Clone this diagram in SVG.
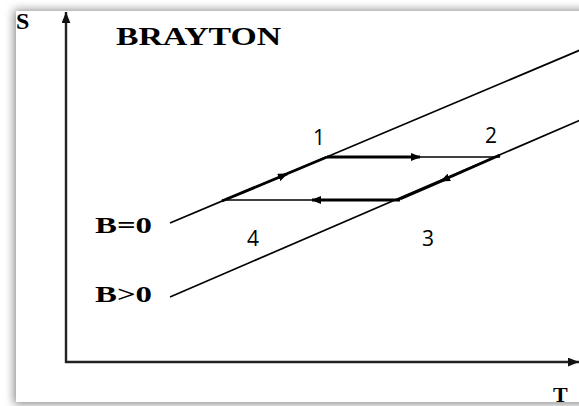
<svg xmlns="http://www.w3.org/2000/svg" width="579" height="406" viewBox="0 0 579 406">
<defs>
<filter id="sh" x="-10%" y="-10%" width="120%" height="120%"><feGaussianBlur stdDeviation="5"/></filter>
<marker id="ah" viewBox="0 0 10 8" refX="9" refY="4" markerWidth="10" markerHeight="8" markerUnits="userSpaceOnUse" orient="auto"><path d="M0,0 L10,4 L0,8 Z" fill="#000"/></marker>
<marker id="ax" viewBox="0 0 10 8" refX="10" refY="4" markerWidth="11" markerHeight="9" markerUnits="userSpaceOnUse" orient="auto"><path d="M0,0 L10,4 L0,8 Z" fill="#111"/></marker>
<style>
.serif{font-family:"Liberation Serif","Times New Roman",serif;font-weight:bold;fill:#000}
.sans{font-family:"Open Sans","Liberation Sans",sans-serif;fill:#000;font-size:21px;text-anchor:middle}
.thin{stroke:#000;stroke-width:1.7;fill:none}
.thick{stroke:#000;stroke-width:2.8;fill:none}
.axis{stroke:#222;stroke-width:2.4;fill:none}
</style>
</defs>
<rect width="579" height="406" fill="#fff"/>
<rect x="14" y="10" width="600" height="394" fill="#888" filter="url(#sh)"/>
<rect x="16" y="11" width="563" height="391" fill="#fff"/>
<g id="axes">
<line class="axis" x1="66" y1="363" x2="66" y2="12" marker-end="url(#ax)"/>
<line class="axis" x1="65" y1="362" x2="579" y2="362" marker-end="url(#ax)"/>
</g>
<g id="labels">
<text class="serif" x="16" y="29" font-size="24">S</text>
<text class="serif" x="116" y="45" font-size="25" textLength="165" lengthAdjust="spacingAndGlyphs">BRAYTON</text>
<text class="serif" x="95" y="233" font-size="24" textLength="57" lengthAdjust="spacingAndGlyphs">B=0</text>
<text class="serif" x="95" y="302" font-size="24" textLength="57" lengthAdjust="spacingAndGlyphs">B&gt;0</text>
<text class="serif" x="553" y="402" font-size="22">T</text>
<text class="sans" x="319" y="145">1</text>
<text class="sans" x="491" y="143">2</text>
<text class="sans" x="428" y="246">3</text>
<text class="sans" x="253" y="246">4</text>
</g>
<g id="curves">
<line class="thin" x1="170" y1="223" x2="585" y2="48"/>
<line class="thin" x1="170" y1="297" x2="585" y2="118"/>
</g>
<g id="connectors">
<line class="thick" x1="222" y1="201" x2="287" y2="174" marker-end="url(#ah)"/>
<line class="thick" x1="284" y1="175" x2="327" y2="157"/>
<line class="thick" x1="327" y1="157" x2="420" y2="157" marker-end="url(#ah)"/>
<line class="thin" x1="418" y1="157" x2="500" y2="157"/>
<line class="thick" x1="500" y1="155" x2="441" y2="181" marker-end="url(#ah)"/>
<line class="thick" x1="444" y1="180" x2="400" y2="199"/>
<line class="thick" x1="400" y1="200" x2="312" y2="200" marker-end="url(#ah)"/>
<line class="thin" x1="314" y1="200" x2="222" y2="200"/>
</g>
</svg>
